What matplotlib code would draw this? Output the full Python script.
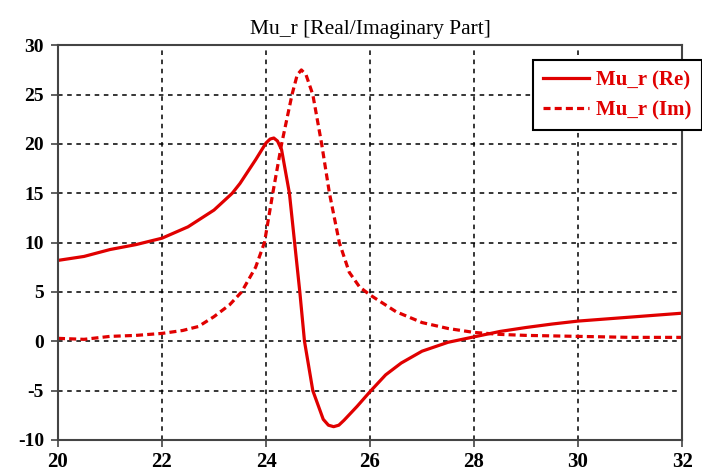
import matplotlib
matplotlib.use("Agg")
import matplotlib.pyplot as plt

# frequency points and curves
freq_re = [20.0, 20.5, 21.0, 21.5, 22.0, 22.5, 23.0, 23.35, 23.5, 23.8, 24.0, 24.08,
           24.15, 24.22, 24.3, 24.45, 24.55, 24.65, 24.74, 24.9, 25.1, 25.2, 25.3,
           25.4, 25.5, 25.75, 26.0, 26.3, 26.6, 27.0, 27.5, 28.0, 28.5, 29.0, 29.5,
           30.0, 30.5, 31.0, 31.5, 32.0]
mu_re = [8.2, 8.6, 9.3, 9.8, 10.45, 11.6, 13.3, 15.0, 16.0, 18.4, 20.1, 20.5,
         20.6, 20.3, 19.4, 15.0, 10.0, 5.0, 0.0, -5.0, -7.9, -8.5, -8.65,
         -8.5, -8.0, -6.6, -5.1, -3.4, -2.2, -1.0, -0.1, 0.45, 1.0, 1.4, 1.75,
         2.05, 2.25, 2.45, 2.65, 2.85]

freq_im = [20.0, 20.5, 21.0, 21.5, 22.0, 22.4, 22.7, 23.0, 23.3, 23.53, 23.8, 23.97,
           24.13, 24.3, 24.5, 24.6, 24.68, 24.77, 24.9, 25.07, 25.22, 25.41, 25.6,
           25.8, 26.0, 26.5, 27.0, 27.5, 28.0, 28.5, 29.0, 30.0, 31.0, 32.0]
mu_im = [0.3, 0.2, 0.5, 0.6, 0.8, 1.1, 1.5, 2.5, 3.7, 5.0, 7.5, 10.0,
         15.0, 20.0, 25.0, 27.0, 27.5, 27.0, 25.0, 20.0, 15.0, 10.0, 7.0,
         5.5, 4.7, 3.0, 1.9, 1.3, 0.9, 0.7, 0.6, 0.5, 0.4, 0.4]

xticks = [20, 22, 24, 26, 28, 30, 32]
yticks = [-10, -5, 0, 5, 10, 15, 20, 25, 30]

red = '#e00000'
serif = ['Liberation Serif', 'DejaVu Serif']

fig = plt.figure(figsize=(7.02, 4.75), dpi=100)
ax = fig.add_axes([0.0826, 0.0737, 0.889, 0.831])

ax.plot(freq_re, mu_re, color=red, lw=2.3, label='Mu_r (Re)')
ax.plot(freq_im, mu_im, color=red, lw=2.3, ls=(0, (2.2, 1.3)), label='Mu_r (Im)')

ax.set_xlim(20, 32)
ax.set_ylim(-10, 30)
ax.set_xticks(xticks)
ax.set_yticks(yticks)
ax.set_xticklabels([str(t) for t in xticks], fontfamily=serif, fontweight='bold', fontsize=15)
ax.set_yticklabels([str(t) for t in yticks], fontfamily=serif, fontweight='bold', fontsize=14)
ax.tick_params(direction='out', length=5, width=1.2, color='#444444', pad=5)
ax.tick_params(axis='x', pad=4)

ax.grid(True, color='black', ls=(0, (3, 3)), lw=1.1)
for s in ax.spines.values():
    s.set_color('#444444')
    s.set_linewidth(1.5)

ax.set_title('Mu_r [Real/Imaginary Part]', fontfamily=serif, fontsize=15.5, pad=8)

leg = ax.legend(loc='upper left', bbox_to_anchor=(0.761, 0.962), borderaxespad=0,
                frameon=True, fancybox=False, framealpha=1, edgecolor='black',
                prop={'family': serif, 'weight': 'bold', 'size': 15},
                handlelength=2.2, handletextpad=0.35, borderpad=0.5, labelspacing=0.45)
leg.get_frame().set_linewidth(1.5)
for t in leg.get_texts():
    t.set_color(red)

fig.savefig('out.png', dpi=100)
